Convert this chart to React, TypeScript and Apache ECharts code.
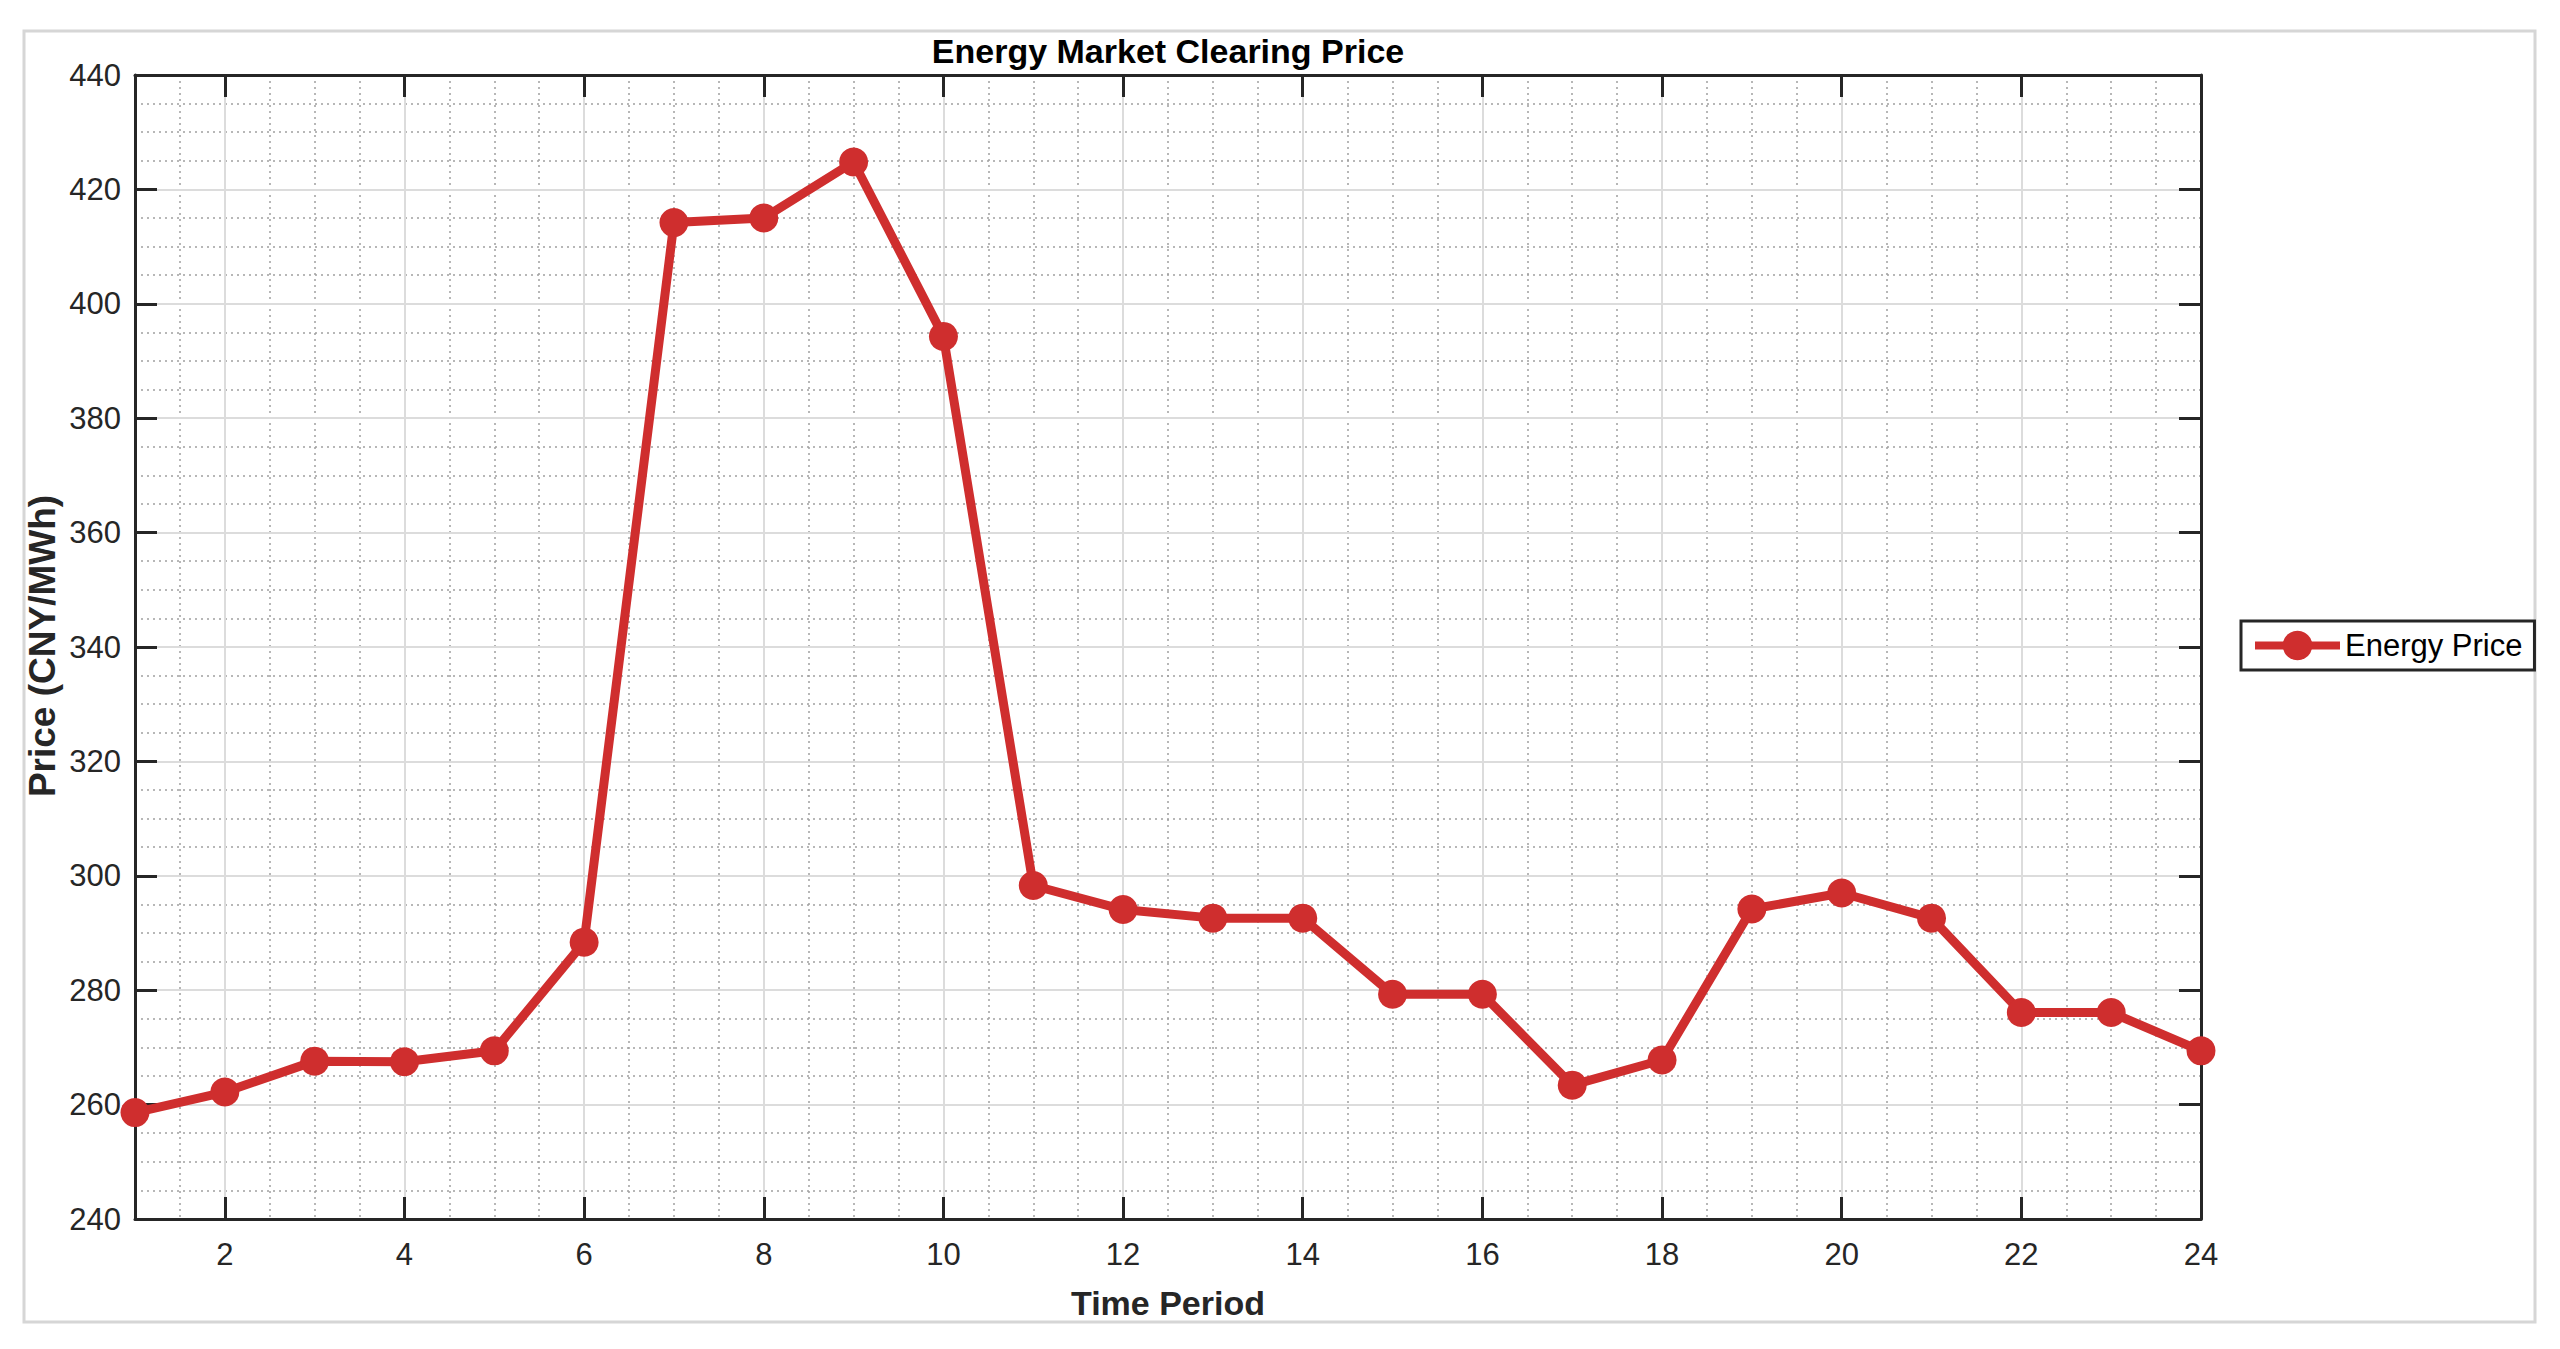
import React, { useEffect, useRef } from "react";
import * as echarts from "echarts";

// ---- data ----
const periods = [1, 2, 3, 4, 5, 6, 7, 8, 9, 10, 11, 12, 13, 14, 15, 16, 17, 18, 19, 20, 21, 22, 23, 24];
const prices = [
  258.6, 262.2, 267.6, 267.5, 269.4, 288.4, 414.2, 415.0, 424.8, 394.3, 298.3, 294.1,
  292.6, 292.6, 279.3, 279.3, 263.4, 267.8, 294.2, 297.0, 292.6, 276.1, 276.1, 269.4,
];
const xTickValues = [2, 4, 6, 8, 10, 12, 14, 16, 18, 20, 22, 24];
const xMinorValues = [
  1.5, 2.5, 3, 3.5, 4.5, 5, 5.5, 6.5, 7, 7.5, 8.5, 9, 9.5, 10.5, 11, 11.5, 12.5, 13, 13.5,
  14.5, 15, 15.5, 16.5, 17, 17.5, 18.5, 19, 19.5, 20.5, 21, 21.5, 22.5, 23, 23.5,
];
const yMin = 240;
const yMax = 440;
const yStep = 20;
const xMin = 1;
const xMax = 24;

const titleText = "Energy Market Clearing Price";
const xName = "Time Period";
const yName = "Price (CNY/MWh)";
const seriesName = "Energy Price";

const FONT = "'Liberation Sans', Arial, Helvetica, sans-serif";
const AXIS_COLOR = "#262626";
const RED = "#CF2E2E";

export default function App() {
  const ref = useRef<HTMLDivElement>(null);

  useEffect(() => {
    if (!ref.current) return;
    const chart = echarts.init(ref.current, null, { renderer: "svg" });

    const grid = { left: 135, top: 75, width: 2066, height: 1144 };
    const minorDotted = { color: "#A0A0A0", width: 1.5, type: [2, 4] as any };
    const majorSolid = { color: "#DCDCDC", width: 2, type: "solid" as const };
    const tickStyle = { color: AXIS_COLOR, width: 3 };
    const axisLineStyle = { color: AXIS_COLOR, width: 3 };

    const option: any = {
      animation: false,
      backgroundColor: "#ffffff",
      textStyle: { fontFamily: FONT },
      grid: { ...grid, containLabel: false },
      graphic: [
        {
          type: "rect",
          shape: { x: 24, y: 31, width: 2511, height: 1291 },
          style: { fill: "none", stroke: "#D6D6D6", lineWidth: 3 },
          silent: true,
          z: -10,
        },
        {
          type: "text",
          x: 1168,
          y: 51,
          style: {
            text: titleText,
            fontFamily: FONT,
            fontWeight: "bold",
            fontSize: 34,
            fill: "#000000",
            textAlign: "center",
            textVerticalAlign: "middle",
          },
        },
        {
          type: "text",
          x: 1168,
          y: 1303,
          style: {
            text: xName,
            fontFamily: FONT,
            fontWeight: "bold",
            fontSize: 34,
            fill: "#262626",
            textAlign: "center",
            textVerticalAlign: "middle",
          },
        },
        {
          type: "text",
          x: 42,
          y: 646,
          rotation: Math.PI / 2,
          style: {
            text: yName,
            fontFamily: FONT,
            fontWeight: "bold",
            fontSize: 37,
            fill: "#262626",
            textAlign: "center",
            textVerticalAlign: "middle",
          },
        },
      ],
      legend: {
        left: 2241,
        top: 621,
        orient: "vertical",
        data: [seriesName],
        itemWidth: 85,
        itemHeight: 37,
        padding: [9, 12, 9, 10],
        borderColor: AXIS_COLOR,
        borderWidth: 3,
        backgroundColor: "#ffffff",
        lineStyle: { width: 8, color: RED },
        textStyle: { fontFamily: FONT, fontSize: 31, color: "#000000" },
      },
      xAxis: [
        {
          type: "value",
          position: "bottom",
          min: xMin,
          max: xMax,
          axisLine: { show: true, onZero: false, lineStyle: axisLineStyle },
          axisTick: { show: true, inside: true, length: 22, lineStyle: tickStyle, customValues: xTickValues },
          axisLabel: {
            show: true,
            customValues: xTickValues,
            margin: 20,
            fontSize: 31,
            color: AXIS_COLOR,
            fontFamily: FONT,
          },
          splitLine: { show: true, lineStyle: majorSolid, customValues: xTickValues },
          z: 3,
        },
        {
          type: "value",
          position: "top",
          min: xMin,
          max: xMax,
          axisLine: { show: true, onZero: false, lineStyle: axisLineStyle },
          axisTick: { show: true, inside: true, length: 22, lineStyle: tickStyle, customValues: xTickValues },
          axisLabel: { show: false },
          splitLine: { show: false },
          z: 3,
        },
        {
          type: "value",
          position: "bottom",
          min: xMin,
          max: xMax,
          interval: 0.5,
          axisLine: { show: false },
          axisTick: { show: false },
          axisLabel: { show: false },
          splitLine: { show: true, lineStyle: minorDotted, customValues: xMinorValues },
          z: 1,
        },
      ],
      yAxis: [
        {
          type: "value",
          position: "left",
          min: yMin,
          max: yMax,
          interval: yStep,
          axisLine: { show: true, onZero: false, lineStyle: axisLineStyle },
          axisTick: { show: true, inside: true, length: 22, lineStyle: tickStyle },
          axisLabel: { show: true, margin: 14, fontSize: 31, color: AXIS_COLOR, fontFamily: FONT },
          splitLine: { show: true, lineStyle: majorSolid },
          minorTick: { show: false, splitNumber: 4 },
          minorSplitLine: { show: true, lineStyle: minorDotted },
          z: 3,
        },
        {
          type: "value",
          position: "right",
          min: yMin,
          max: yMax,
          interval: yStep,
          axisLine: { show: true, onZero: false, lineStyle: axisLineStyle },
          axisTick: { show: true, inside: true, length: 22, lineStyle: tickStyle },
          axisLabel: { show: false },
          splitLine: { show: false },
          z: 3,
        },
      ],
      series: [
        {
          name: seriesName,
          type: "line",
          xAxisIndex: 0,
          yAxisIndex: 0,
          data: periods.map((p, i) => [p, prices[i]]),
          symbol: "circle",
          symbolSize: 29,
          showAllSymbol: true,
          clip: false,
          lineStyle: { color: RED, width: 9 },
          itemStyle: { color: RED },
          z: 10,
        },
      ],
    };

    chart.setOption(option);
    return () => chart.dispose();
  }, []);

  return (
    <div
      ref={ref}
      style={{ position: "fixed", left: 0, top: 0, width: 2560, height: 1349, background: "#fff" }}
    />
  );
}
